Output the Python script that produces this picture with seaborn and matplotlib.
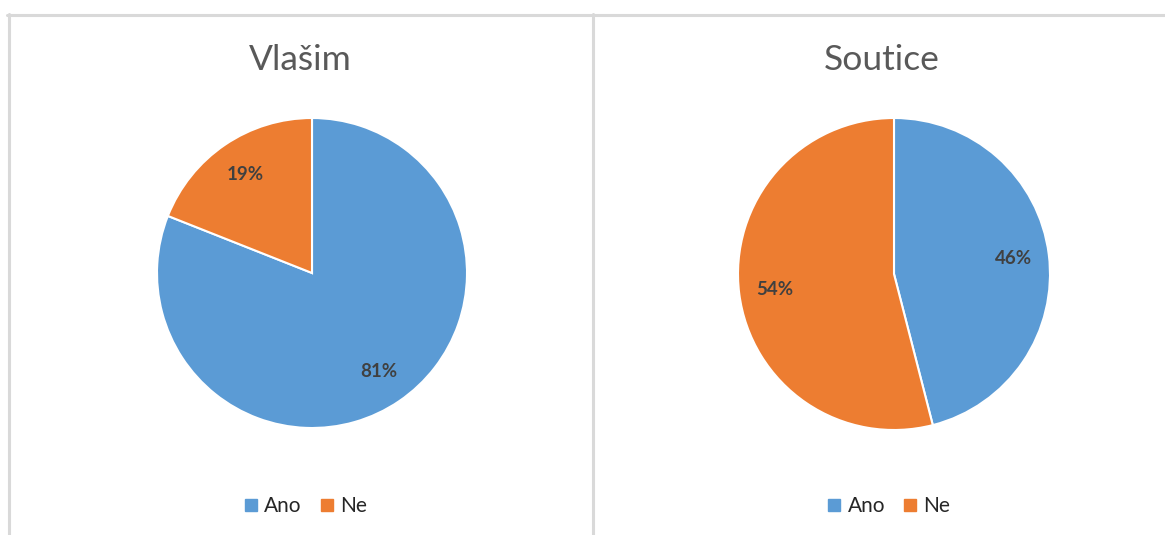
import matplotlib
matplotlib.use("Agg")
import matplotlib.pyplot as plt
from matplotlib.lines import Line2D
import seaborn as sns

sns.set_theme(style="white")
plt.rcParams['font.family'] = ['Lato', 'DejaVu Sans']

# data
labels = ["Ano", "Ne"]
towns = ["Vlašim", "Soutice"]
vlasim = [81, 19]
soutice = [46, 54]
colors = ["#5B9BD5", "#ED7D31"]

W, H = 1165, 535
fig = plt.figure(figsize=(W / 100, H / 100), dpi=100)

def px_axes(cx, cy, r):
    # square axes around the pie centre, pixel coords from the top-left
    return fig.add_axes([(cx - r) / W, (H - cy - r) / H, 2 * r / W, 2 * r / H])

panels = [
    (towns[0], vlasim, (312, 273, 155), 300, 306),
    (towns[1], soutice, (894, 274, 156), 882, 889),
]

for title, vals, (cx, cy, r), tx, lx in panels:
    ax = px_axes(cx, cy, r)
    wedges, texts, autotexts = ax.pie(
        vals, colors=colors, startangle=90, counterclock=False,
        autopct="%d%%", pctdistance=0.77, radius=1,
        wedgeprops=dict(edgecolor="white", linewidth=1.5),
        textprops=dict(color="#404040", fontsize=13.5, fontweight="bold"),
    )
    ax.set_xlim(-1, 1)
    ax.set_ylim(-1, 1)
    ax.axis("off")

    fig.text(tx / W, 1 - 60 / H, title, ha="center", va="center",
             fontsize=25.5, color="#595959")

    handles = [Line2D([], [], marker="s", linestyle="", markersize=8,
                      color=c) for c in colors]
    fig.legend(handles, labels, loc="center", ncol=2,
               bbox_to_anchor=(lx / W, 1 - 506 / H), frameon=False,
               fontsize=15, handlelength=0.6, handletextpad=0.35,
               columnspacing=0.9, labelcolor="#262626")

# chart area borders
grey = "#D9D9D9"
lw = 2.2
fig.add_artist(Line2D([7 / W, 1], [1 - 15 / H] * 2, color=grey, lw=lw))
fig.add_artist(Line2D([8.5 / W] * 2, [0, 1 - 14 / H], color=grey, lw=lw))
fig.add_artist(Line2D([592.5 / W] * 2, [0, 1 - 14 / H], color=grey, lw=lw))

fig.savefig("out.png", dpi=100)
